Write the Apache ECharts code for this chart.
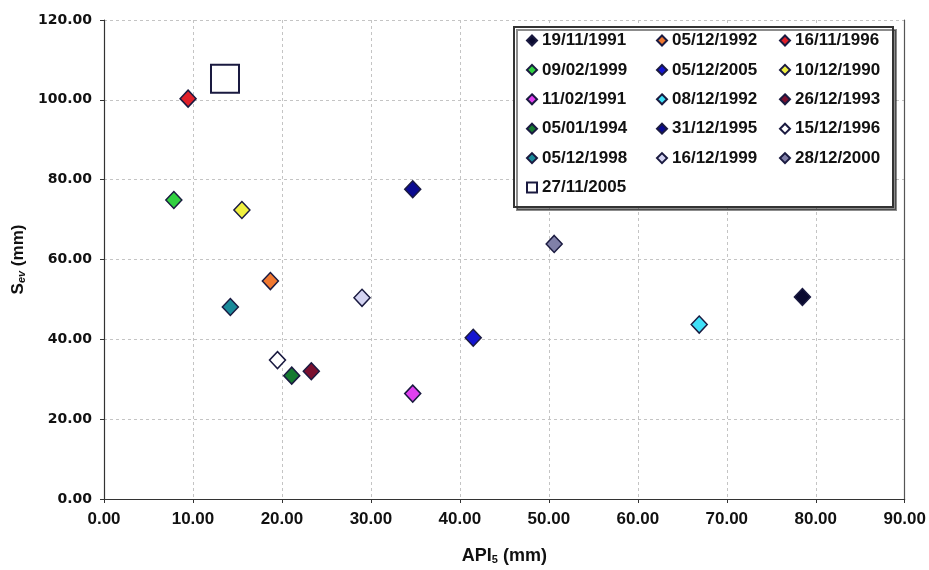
<!DOCTYPE html>
<html>
<head>
<meta charset="utf-8">
<script src="https://cdn.jsdelivr.net/npm/echarts@6/dist/echarts.min.js"></script>
<style>
  html, body { margin: 0; padding: 0; background: #ffffff; }
  #chart { width: 929px; height: 570px; }
</style>
</head>
<body>
<div id="chart"></div>
<script>
// Event dates (legend order, row by row)
var eventDates = [
  '19/11/1991', '05/12/1992', '16/11/1996',
  '09/02/1999', '05/12/2005', '10/12/1990',
  '11/02/1991', '08/12/1992', '26/12/1993',
  '05/01/1994', '31/12/1995', '15/12/1996',
  '05/12/1998', '16/12/1999', '28/12/2000',
  '27/11/2005'
];
// API5 (mm) for each event
var apiValues = [
  78.5, 18.7, 9.45,
  7.85, 41.5, 15.5,
  34.7, 66.9, 23.3,
  21.1, 34.7, 19.5,
  14.2, 29.0, 50.6,
  13.6
];
// Sev (mm) for each event
var sevValues = [
  50.6, 54.6, 100.3,
  74.9, 40.4, 72.4,
  26.4, 43.7, 32.0,
  30.9, 77.6, 34.8,
  48.1, 50.4, 63.9,
  105.3
];
var markerColors = [
  '#0a0a30', '#f07830', '#e0202a',
  '#30d040', '#1414d0', '#f0f040',
  '#e040f0', '#40e0f8', '#7a1030',
  '#157a30', '#0a0a90', '#ffffff',
  '#1a8a9a', '#d4d4f2', '#8080a8',
  '#ffffff'
];
var xTicks = { min: 0, max: 90, step: 10 };
var yTicks = { min: 0, max: 120, step: 20 };

var legendColumns = [
  [0, 3, 6, 9, 12, 15],
  [1, 4, 7, 10, 13],
  [2, 5, 8, 11, 14]
];
var legendLeft = [526, 656, 779];

var series = eventDates.map(function (name, i) {
  var isSquare = (i === eventDates.length - 1);
  return {
    name: name,
    type: 'scatter',
    symbol: isSquare ? 'rect' : 'diamond',
    symbolSize: isSquare ? 28 : [16, 17],
    itemStyle: {
      color: markerColors[i],
      borderColor: '#1a1a40',
      borderWidth: isSquare ? 2 : 1.5,
      opacity: 1
    },
    emphasis: { disabled: true },
    data: [[apiValues[i], sevValues[i]]],
    z: 3
  };
});

var legends = legendColumns.map(function (col, c) {
  return {
    orient: 'vertical',
    left: legendLeft[c],
    top: 32,
    padding: 0,
    itemWidth: 10,
    itemHeight: 10,
    itemGap: 12.4,
    selectedMode: false,
    z: 60,
    textStyle: {
      fontFamily: 'Liberation Sans, Arial, sans-serif',
      fontWeight: 'bold',
      fontSize: 17,
      lineHeight: 17,
      color: '#111111'
    },
    data: col.map(function (k) { return eventDates[k]; })
  };
});

var chart = echarts.init(document.getElementById('chart'), null, { renderer: 'canvas' });
chart.setOption({
  backgroundColor: '#ffffff',
  animation: false,
  grid: { left: 104, right: 22, top: 20, bottom: 69 },
  graphic: [{
    type: 'rect',
    z: 50,
    shape: { x: 514, y: 27, width: 379, height: 180 },
    style: {
      fill: '#ffffff',
      stroke: '#333333',
      lineWidth: 2,
      shadowColor: 'rgba(0,0,0,0.45)',
      shadowOffsetX: 3,
      shadowOffsetY: 3,
      shadowBlur: 0
    }
  }],
  legend: legends,
  xAxis: {
    type: 'value',
    min: xTicks.min, max: xTicks.max, interval: xTicks.step,
    name: '{b|API}{s|5}{b| (mm)}',
    nameLocation: 'middle',
    nameGap: 48,
    nameTextStyle: {
      rich: {
        b: { fontFamily: 'Liberation Sans Narrow, Arial Narrow, sans-serif', fontWeight: 'bold', fontSize: 18, color: '#111' },
        s: { fontFamily: 'Liberation Sans Narrow, Arial Narrow, sans-serif', fontWeight: 'bold', fontSize: 11, color: '#111', verticalAlign: 'bottom', padding: [7, 0, 0, 0] }
      }
    },
    axisLine: { show: true, onZero: false, lineStyle: { color: '#333', width: 1.2 } },
    axisTick: { show: true, length: 4, lineStyle: { color: '#333' } },
    axisLabel: {
      margin: 12,
      fontFamily: 'Liberation Sans Narrow, Arial Narrow, sans-serif',
      fontWeight: 'bold',
      fontSize: 17,
      color: '#111',
      formatter: function (v) { return v.toFixed(2); }
    },
    splitLine: { show: true, lineStyle: { color: '#c4c4c4', type: [3, 3], width: 1 } }
  },
  yAxis: [{
    type: 'value',
    min: yTicks.min, max: yTicks.max, interval: yTicks.step,
    name: '{b|S}{s|ev}{b| (mm)}',
    nameLocation: 'middle',
    nameGap: 66,
    nameTextStyle: {
      rich: {
        b: { fontFamily: 'Liberation Sans, Arial, sans-serif', fontWeight: 'bold', fontSize: 17, color: '#111' },
        s: { fontFamily: 'Liberation Sans, Arial, sans-serif', fontWeight: 'bold', fontStyle: 'italic', fontSize: 11, color: '#111', verticalAlign: 'bottom', padding: [7, 0, 0, 0] }
      }
    },
    axisLine: { show: true, onZero: false, lineStyle: { color: '#333', width: 1.2 } },
    axisTick: { show: true, length: 4, lineStyle: { color: '#333' } },
    axisLabel: {
      margin: 12,
      fontFamily: 'DejaVu Sans, sans-serif',
      fontWeight: 'bold',
      fontSize: 14,
      color: '#111',
      formatter: function (v) { return v.toFixed(2); }
    },
    splitLine: { show: true, lineStyle: { color: '#c4c4c4', type: [3, 3], width: 1 } }
  }, {
    type: 'value',
    position: 'right',
    min: yTicks.min, max: yTicks.max, interval: yTicks.step,
    axisLine: { show: true, onZero: false, lineStyle: { color: '#555', width: 1.2 } },
    axisTick: { show: false },
    axisLabel: { show: false },
    splitLine: { show: false }
  }],
  series: series
});
</script>
</body>
</html>
